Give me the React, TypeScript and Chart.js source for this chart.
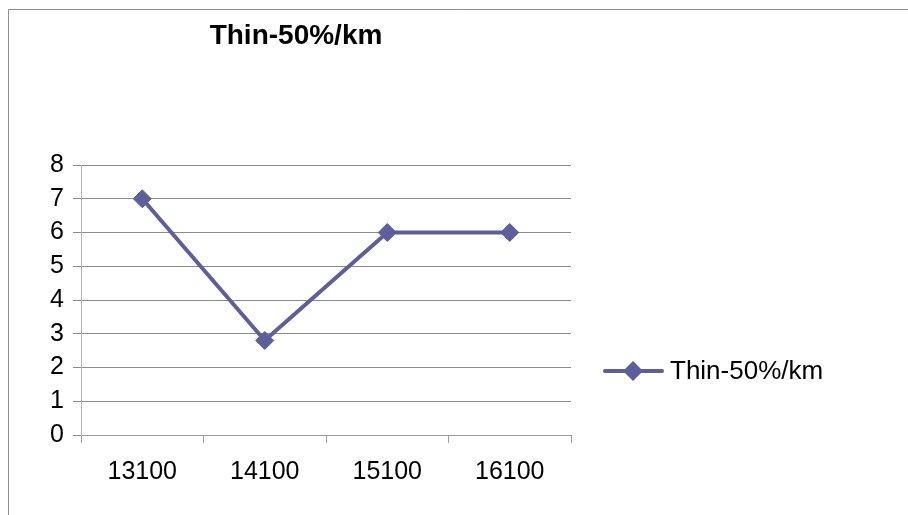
import React, { useEffect, useRef } from "react";
import { Chart, registerables } from "chart.js";

Chart.register(...registerables);

const titleText = "Thin-50%/km";
const categories = ["13100", "14100", "15100", "16100"];
const seriesName = "Thin-50%/km";
const seriesValues = [7, 2.8, 6, 6];
const yMin = 0;
const yMax = 8;
const yStep = 1;

const FONT = "'Liberation Sans', Arial, sans-serif";
const LINE_COLOR = "#5E5E9A";

const decorPlugin = {
  id: "decor",
  afterDraw(chart: any) {
    const ctx = chart.ctx as CanvasRenderingContext2D;
    const W = chart.width;
    const H = chart.height;
    ctx.save();
    // outer frame (left and top edges only visible)
    ctx.strokeStyle = "#8c8c8c";
    ctx.lineWidth = 1;
    ctx.beginPath();
    ctx.moveTo(8.5, H + 5);
    ctx.lineTo(8.5, 9.5);
    ctx.lineTo(W + 5, 9.5);
    ctx.stroke();
    // title
    ctx.fillStyle = "#000";
    ctx.font = `bold 28px ${FONT}`;
    ctx.textAlign = "center";
    ctx.textBaseline = "middle";
    ctx.fillText(titleText, 296, 36);
    // legend
    const ds = chart.data.datasets[0];
    const ly = 371;
    ctx.strokeStyle = ds.borderColor;
    ctx.lineWidth = 4;
    ctx.lineCap = "round";
    ctx.beginPath();
    ctx.moveTo(605, ly);
    ctx.lineTo(662, ly);
    ctx.stroke();
    ctx.fillStyle = ds.pointBackgroundColor;
    ctx.beginPath();
    ctx.moveTo(633 - 10, ly);
    ctx.lineTo(633, ly - 10);
    ctx.lineTo(633 + 10, ly);
    ctx.lineTo(633, ly + 10);
    ctx.closePath();
    ctx.fill();
    ctx.fillStyle = "#000";
    ctx.font = `26px ${FONT}`;
    ctx.textAlign = "left";
    ctx.fillText(ds.label, 670, ly + 1);
    ctx.restore();
  },
};

export default function App() {
  const ref = useRef<HTMLCanvasElement | null>(null);
  useEffect(() => {
    if (!ref.current) return;
    const chart = new Chart(ref.current, {
      type: "line",
      data: {
        labels: categories,
        datasets: [
          {
            label: seriesName,
            data: seriesValues,
            borderColor: LINE_COLOR,
            backgroundColor: LINE_COLOR,
            pointBackgroundColor: LINE_COLOR,
            pointBorderColor: LINE_COLOR,
            borderWidth: 4,
            pointStyle: "rectRot",
            pointRadius: 9,
            pointBorderWidth: 1,
            tension: 0,
          },
        ],
      },
      options: {
        animation: false,
        responsive: false,
        maintainAspectRatio: false,
        layout: { padding: { left: 0, top: 165, right: 337, bottom: 0 } },
        plugins: {
          legend: { display: false },
          title: { display: false },
          tooltip: { enabled: false },
        },
        scales: {
          x: {
            type: "category",
            offset: true,
            grid: {
              offset: true,
              drawOnChartArea: false,
              color: "#a0a0a0",
              tickLength: 8,
            },
            border: { color: "#999999", width: 1 },
            ticks: {
              color: "#000",
              font: { family: FONT, size: 25 },
              padding: 14,
              maxRotation: 0,
            },
            afterFit: (s: any) => {
              s.height = 80;
            },
          },
          y: {
            min: yMin,
            max: yMax,
            ticks: {
              stepSize: yStep,
              color: "#000",
              font: { family: FONT, size: 25 },
              padding: 9,
            },
            grid: { color: "#8a8a8a", tickLength: 8 },
            border: { color: "#b4b4b4", width: 1 },
            afterFit: (s: any) => {
              s.width = 81;
            },
          },
        },
      },
      plugins: [decorPlugin],
    });
    return () => chart.destroy();
  }, []);
  return (
    <div style={{ position: "fixed", left: 0, top: 0, width: 908, height: 515, background: "#fff", overflow: "hidden" }}>
      <canvas ref={ref} width={908} height={515} style={{ display: "block" }} />
    </div>
  );
}
